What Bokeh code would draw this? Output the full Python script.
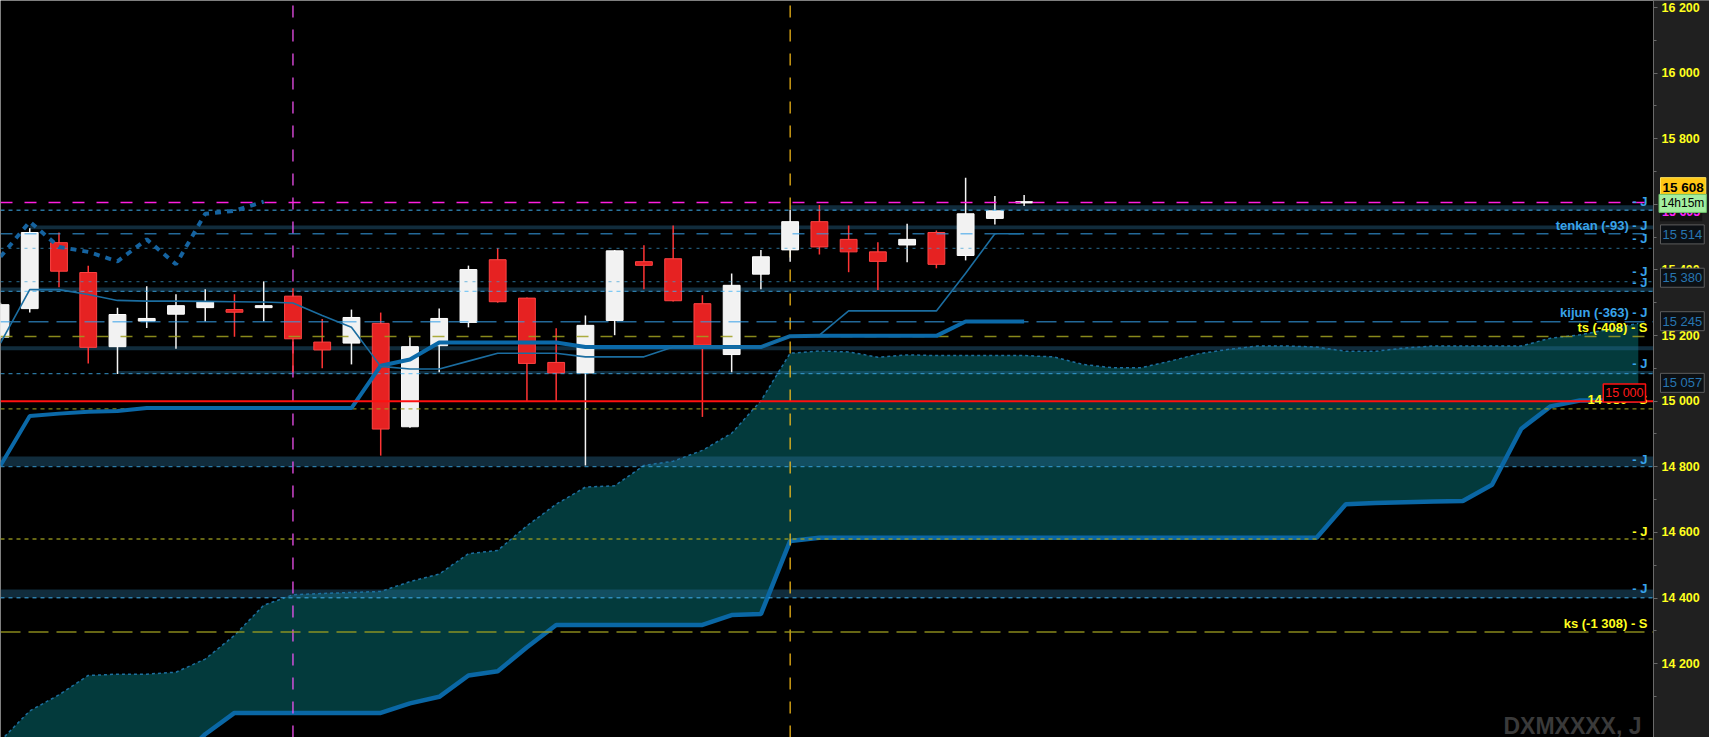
from bokeh.plotting import figure
from bokeh.models import Range1d, FixedTicker, Label, ColumnDataSource, LinearAxis, BoxAnnotation
from bokeh.embed import file_html
from bokeh.resources import INLINE

# ---------------- data ----------------
opens = [15195, 15282, 15483, 15392, 15166, 15244, 15265, 15285, 15279, 15285,
         15320, 15180, 15177, 15237, 14922, 15169, 15240, 15431, 15314, 15118,
         15086, 15246, 15425, 15434, 15297, 15142, 15387, 15461, 15547, 15493,
         15455, 15476, 15514, 15444, 15557, 15604]
closes = [15294, 15514, 15396, 15164, 15264, 15252, 15291, 15302, 15271, 15291,
          15190, 15156, 15255, 14915, 15166, 15252, 15401, 15303, 15115, 15086,
          15231, 15458, 15414, 15306, 15171, 15353, 15440, 15547, 15470, 15455,
          15426, 15493, 15417, 15571, 15580, 15608]
highs = [15300, 15527, 15514, 15413, 15285, 15350, 15326, 15341, 15326, 15365,
         15344, 15250, 15279, 15270, 15195, 15282, 15413, 15466, 15316, 15222,
         15261, 15461, 15475, 15535, 15323, 15389, 15461, 15583, 15598, 15535,
         15484, 15541, 15520, 15681, 15625, 15628]
lows = [15189, 15270, 15347, 15115, 15083, 15223, 15160, 15243, 15196, 15243,
        15088, 15100, 15112, 14834, 14919, 15088, 15225, 15300, 14998, 14998,
        14804, 15201, 15341, 15304, 14952, 15088, 15341, 15425, 15447, 15393,
        15339, 15423, 15405, 15429, 15538, 15595]

tenkan = [15177, 15340, 15340, 15325, 15307, 15305, 15305, 15304, 15303, 15302,
          15299, 15261, 15225, 15106, 15098, 15098, 15122, 15146, 15146, 15146,
          15135, 15135, 15135, 15165, 15165, 15165, 15165, 15198, 15201, 15275,
          15275, 15275, 15275, 15390, 15510, 15510]
kijun = [14804, 14955, 14962, 14968, 14970, 14979, 14979, 14979, 14979, 14979,
         14979, 14979, 14979, 15108, 15127, 15179, 15179, 15179, 15179, 15179,
         15165, 15165, 15165, 15165, 15165, 15165, 15165, 15198, 15199, 15199,
         15199, 15199, 15199, 15243, 15243, 15243]
span_a = [13965, 14056, 14105, 14164, 14168, 14168, 14174, 14214, 14286, 14378,
          14410, 14414, 14417, 14420, 14450, 14473, 14535, 14545, 14620, 14686,
          14738, 14742, 14804, 14817, 14850, 14902, 15001, 15146, 15153, 15150,
          15134, 15141, 15139, 15139, 15139, 15139, 15135, 15112, 15102, 15102,
          15122, 15145, 15158, 15168, 15168, 15165, 15152, 15152, 15162, 15168,
          15168, 15168, 15168, 15192, 15202, 15219, 15237]
span_b = [13900, 13900, 13900, 13900, 13900, 13900, 13900, 13985, 14050, 14050,
          14050, 14050, 14050, 14050, 14079, 14099, 14164, 14177, 14250, 14318,
          14318, 14318, 14318, 14318, 14318, 14348, 14351, 14574, 14584, 14584,
          14584, 14584, 14584, 14584, 14584, 14584, 14584, 14584, 14584, 14584,
          14584, 14584, 14584, 14584, 14584, 14584, 14686, 14690, 14692, 14694,
          14696, 14745, 14916, 14984, 15002, 15002, 15002]
CHIKOU_SHIFT = 26

vline_idx = [10, 27]
vline_kind = ["session", "day"]

hline_values = [15605.7, 15581.8, 15510.3, 15465.5, 15364.1, 15334.3, 15241.9,
                15197.2, 15084.2, 14976.5, 14800.5, 14579.9, 14400.9, 14296.6]
hline_kind = ["last", "J", "tenkan", "J2", "J2", "J", "kijun",
              "ts", "J", "S", "J", "S", "J", "ks"]

band_top = [15596.7, 15535.0, 15346.3, 15167.3, 15091.6, 14831.0, 14425.7]
band_bottom = [15581.8, 15524.0, 15334.4, 15154.8, 15083.8, 14800.5, 14400.9]
band_start = [27, 1, 0, 0, 4, 0, 0]

round_level = 15000

major_ticks = list(range(14200, 16201, 200))
minor_ticks = list(range(14100, 16200, 200))

line_label_text = ["- J", "tenkan (-93) - J", "- J", "- J", "- J", "kijun (-363) - J",
                   "ts (-408) - S", "- J", "14 980 - S", "- J", "- J", "- J",
                   "ks (-1 308) - S"]
line_label_y = [15607.5, 15535.0, 15495.4, 15394.0, 15363.0, 15268.7,
                15224.0, 15114.5, 15004.0, 14823.0, 14602.6, 14428.7, 14322.0]
line_label_kind = ["J", "J", "J", "J", "J", "J", "S", "J", "S", "J", "S", "J", "S"]

tag_text = ["15 605", "15 608", "14h15m", "15 514", "15 380", "15 245", "15 057"]
tag_y = [15576.0, 15652.2, 15602.7, 15508.2, 15376.1, 15243.7, 15055.8]
tag_kind = ["last", "price", "timer", "J", "J", "J", "J"]

round_tag_text = "15 000"
round_tag_y = 15025.1

watermark = "DXMXXXX, J"

# ---------------- styles ----------------
FONT = "Liberation Sans"
HSTYLE = {
    "last":   dict(color="#ff1ee0", dash="12 12", width=1.5, alpha=1.0),
    "J":      dict(color="#40b4f4", dash="4 4", width=1.3, alpha=0.65),
    "J2":     dict(color="#3a9ed6", dash="3 5", width=1.3, alpha=0.55),
    "tenkan": dict(color="#35a0e8", dash="12 12", width=1.5, alpha=0.65),
    "kijun":  dict(color="#35a0e8", dash="20 8", width=1.5, alpha=0.65),
    "ts":     dict(color="#a0a020", dash="12 12", width=1.5, alpha=0.85),
    "S":      dict(color="#a0a020", dash="4 4", width=1.3, alpha=0.85),
    "ks":     dict(color="#a0a020", dash="20 8", width=1.5, alpha=0.85),
}
VSTYLE = {"session": "#ff55ff", "day": "#ffc21a"}
LABEL_COLOR = {"J": "#38a3ea", "S": "#ffff1e"}
TAG_STYLE = {
    "last":  dict(text="#ff22ff", bg="#121212", border=None, size="12.5px", style="bold", dx=6.5),
    "price": dict(text="#000000", bg="#ffc814", border="#ffe35a", size="13.5px", style="bold", dx=7),
    "timer": dict(text="#000000", bg="#a4eea0", border="#6cc46c", size="12px", style="normal", dx=5.5),
    "J":     dict(text="#2776b2", bg="#0c1014", border="#5c5c5c", size="13px", style="normal", dx=7),
}

W, H = 1709, 737
AXIS_W = 56
X0, X1 = 0.0, 56.52                      # price area
XR = X1 * W / (W - AXIS_W)               # full frame incl. price-scale panel
Y0, Y1 = 13975, 16221

p = figure(width=W, height=H, x_range=Range1d(X0, XR), y_range=Range1d(Y0, Y1),
           x_axis_location=None, y_axis_location=None, toolbar_location=None,
           output_backend="svg", min_border=0,
           background_fill_color="#000000", border_fill_color="#1e1e1e",
           outline_line_color=None)
p.grid.visible = False

# ---- price-scale panel background ----
p.add_layout(BoxAnnotation(left=X1, fill_color="#202020", fill_alpha=1.0,
                           line_color=None, level="underlay"))

# ---- cloud ----
cx = list(range(len(span_a)))
p.varea(x=cx, y1=span_a, y2=span_b, fill_color="#033a3c")

# ---- zone bands ----
p.quad(left=band_start, right=[X1] * len(band_start), top=band_top,
       bottom=band_bottom, fill_color="#2a6d95", fill_alpha=0.4, line_color=None)

# ---- cloud edges ----
p.line(cx, span_a, line_color="#1d70a0", line_width=1.5, line_dash="3 3")
p.line(cx, span_b, line_color="#0a67a5", line_width=4.5)

# ---- vertical dashed lines ----
for vx, kind in zip(vline_idx, vline_kind):
    p.segment(x0=[vx], y0=[Y0], x1=[vx], y1=[Y1], line_color=VSTYLE[kind],
              line_width=1.2, line_dash="12 12")

# ---- candles ----
idx = list(range(len(opens)))
up = [c >= o for o, c in zip(opens, closes)]
src = ColumnDataSource(dict(
    x=idx,
    top=[max(o, c) for o, c in zip(opens, closes)],
    bot=[min(o, c) for o, c in zip(opens, closes)],
    high=highs, low=lows,
    fill=["#f2f2f2" if u else "#e62222" for u in up],
    edge=["#ffffff" if u else "#ff4444" for u in up],
    wick=["#f5f5f5" if u else "#ff3434" for u in up],
))
p.segment(x0="x", y0="low", x1="x", y1="high", line_color="wick", line_width=1.5, source=src)
p.vbar(x="x", width=0.575, top="top", bottom="bot", fill_color="fill",
       line_color="edge", line_width=1, source=src)

# ---- horizontal level lines ----
for v, kind in zip(hline_values, hline_kind):
    st = HSTYLE[kind]
    p.line([X0, X1], [v, v], line_color=st["color"], line_width=st["width"],
           line_dash=st["dash"], line_alpha=st["alpha"])

# ---- ichimoku lines ----
p.line(idx, kijun, line_color="#0b69a8", line_width=4)
p.line(idx, tenkan, line_color="#1b6da0", line_width=1.6)
chikou = closes[CHIKOU_SHIFT:]
p.line(list(range(len(chikou))), chikou, line_color="#1563a0", line_width=4,
       line_dash="6 6")

# ---- round level ----
p.line([X0, X1], [round_level, round_level], line_color="#ff1010", line_width=2)

# ---- price axis drawn at the panel edge ----
ax = LinearAxis(fixed_location=X1)
ax.ticker = FixedTicker(ticks=major_ticks, minor_ticks=minor_ticks)
ax.major_label_overrides = {t: f"{t:,}".replace(",", " ") for t in major_ticks}
ax.axis_line_color = "#6a6a6a"
ax.major_tick_line_color = "#6a6a6a"
ax.minor_tick_line_color = "#6a6a6a"
ax.major_tick_in = 0
ax.major_tick_out = 4
ax.minor_tick_in = 0
ax.minor_tick_out = 3
ax.major_label_standoff = 4
ax.major_label_text_color = "#ffff1e"
ax.major_label_text_font = FONT
ax.major_label_text_font_style = "bold"
ax.major_label_text_font_size = "12.5px"
p.add_layout(ax, "right")

# ---- labels inside plot ----
for t, y, k in zip(line_label_text, line_label_y, line_label_kind):
    p.add_layout(Label(x=X1, y=y, x_offset=-6, text=t, text_align="right",
                       text_baseline="middle", text_color=LABEL_COLOR[k],
                       text_font=FONT, text_font_style="bold", text_font_size="13px"))

p.add_layout(Label(x=X1, y=round_tag_y, x_offset=-8, text=round_tag_text,
                   text_align="right", text_baseline="middle", text_color="#ff1a1a",
                   text_font=FONT, text_font_size="12.5px",
                   background_fill_color="#000000", border_line_color="#ff1010",
                   border_line_width=1.5, padding=2))

# ---- watermark ----
p.add_layout(Label(x=X1, y=Y0, x_offset=-12, y_offset=-1, text=watermark,
                   text_align="right", text_baseline="bottom", text_color="#3a3a3a",
                   text_font=FONT, text_font_style="bold", text_font_size="23px"))

# ---- tags on the price axis ----
for t, y, k in zip(tag_text, tag_y, tag_kind):
    st = TAG_STYLE[k]
    p.add_layout(Label(x=X1, y=y, x_offset=st["dx"], text=t, text_align="left",
                       text_baseline="middle", text_color=st["text"], text_font=FONT,
                       text_font_style=st["style"], text_font_size=st["size"],
                       background_fill_color=st["bg"], border_line_color=st["border"],
                       padding=2))

open("out.html", "w").write(file_html(p, INLINE))
